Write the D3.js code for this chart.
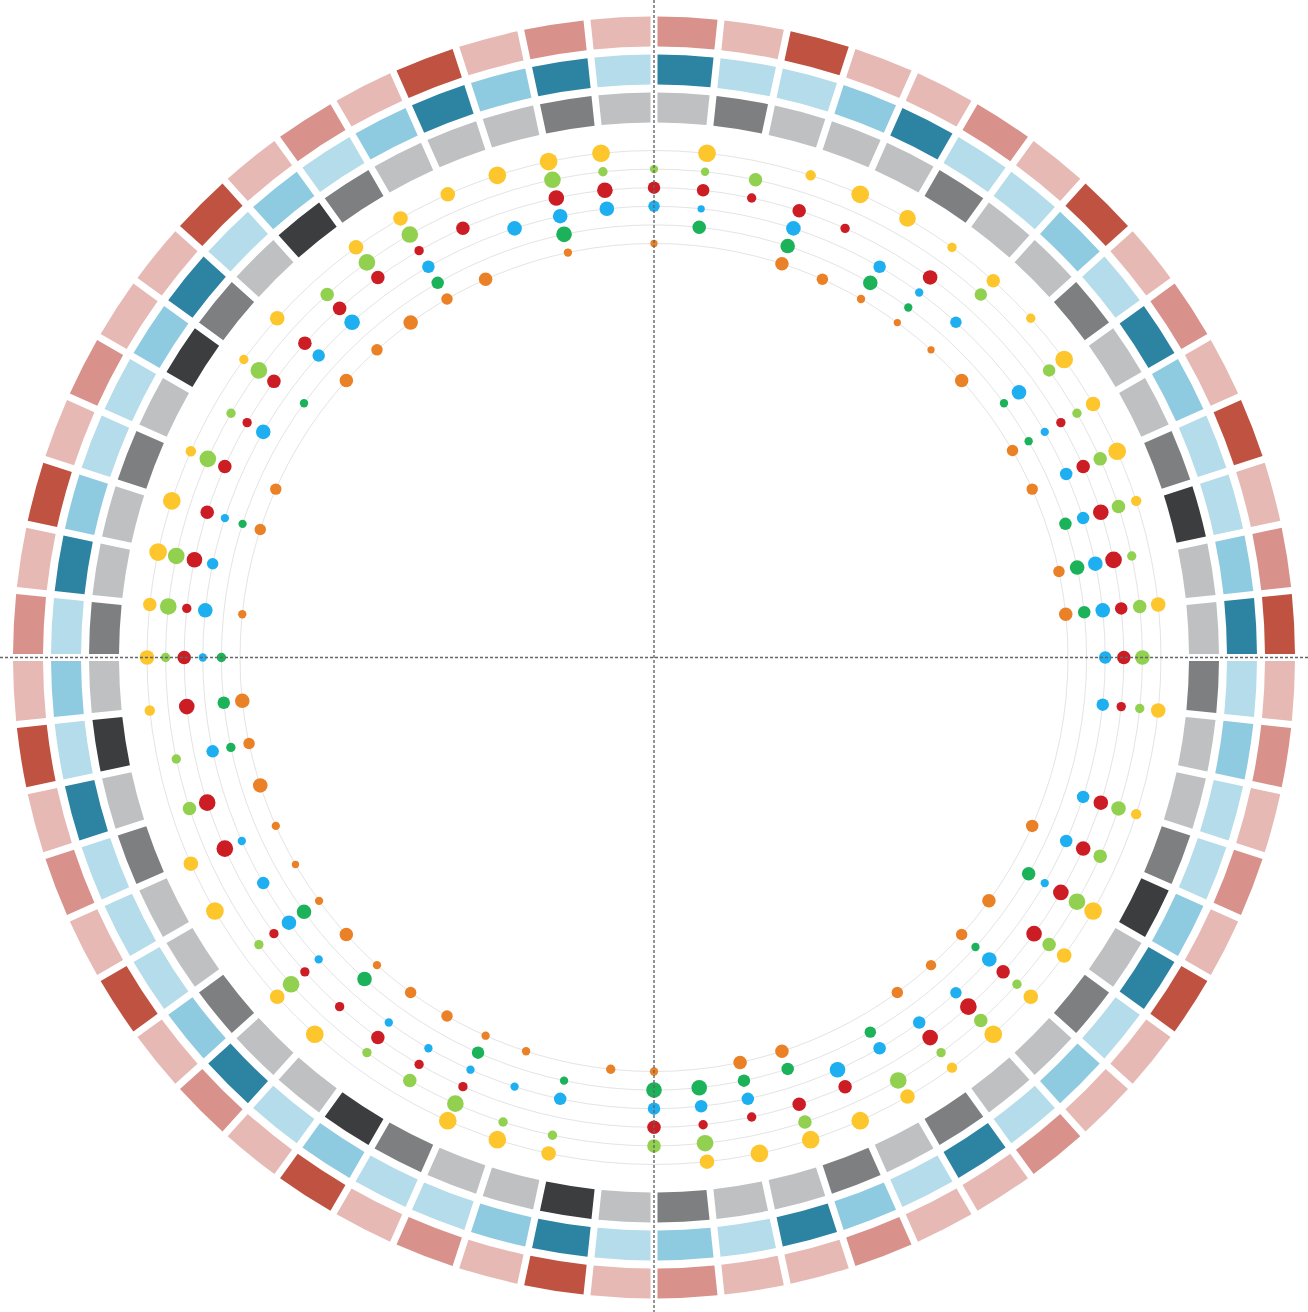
<!DOCTYPE html>
<html>
<head>
<meta charset="utf-8">
<script src="https://cdn.jsdelivr.net/npm/d3@7"></script>
<style>html,body{margin:0;padding:0;background:#fff;}svg{display:block;}</style>
</head>
<body>
<svg id="chart" width="1308" height="1312"></svg>
<script>
// ---- data ----
const categories = d3.range(1, 61).map(i => "S" + i);
const levels = [1, 2, 3];

// ring levels (1 = low, 2 = mid, 3 = high)
const outerLevels  = [2,1,3,1,1,2,1,3,1,2,1,3,1,2,3, 1,2,1,2,1,3,1,1,2,1,1,2,1,1,2, 1,3,1,2,1,3,1,2,1,3,1,2,1,3,1, 2,1,3,1,2,1,1,3,1,2,1,3,1,2,1];
const middleLevels = [3,1,1,2,3,1,1,2,1,3,2,1,1,2,3, 1,2,1,1,2,3,1,2,1,3,1,2,3,1,2, 1,3,2,1,1,2,1,3,2,1,1,1,3,1,2, 1,3,2,1,1,2,3,1,2,1,2,3,2,3,1];
const innerLevels  = [1,2,1,1,1,2,1,1,2,1,1,2,3,1,1, 2,1,1,2,3,1,2,1,1,2,1,2,1,1,2, 1,3,1,1,2,3,1,1,2,1,1,2,1,3,1, 2,1,1,2,1,3,2,1,3,2,1,1,1,2,1];

// dot series (0 = no value)
const seriesNames = ["yellow", "lightgreen", "red", "blue", "green", "orange"];
const yellowVals     = [0,8.5,0,5,8.5,8,4.5,6.5,4.5,8.5, 7,8.5,5,0,7,0,7,0,5,0, 8.5,7,7,8.5,5,7,8.5,8.5,8.5,7, 0,0,7,8.5,8.5,0,0,8.5,7,0, 8.5,7,0,0,5,7,6.5,8.5,8.5,5, 0,4.5,7,0,7,7,7,8.5,8.5,8.5];
const lightgreenVals = [4,4,6.5,0,0,0,0,6,0,6, 4.5,6.5,6.5,4.5,6.5,7,4.5,0,7,6.5, 8,6.5,4.5,6.5,4.5,8,0,6.5,0,8, 6.5,0,4.5,4.5,8,6.5,4.5,0,8,4.5, 0,0,6.5,4.5,0,4.5,8,8,0,8, 4.5,8,0,6.5,8,8,0,0,8,4.5];
const redVals        = [6,6,4.5,6.5,4.5,0,7,0,0,0, 4.5,6.5,7.5,8,6,6.5,4.5,0,7,7, 7.5,7.5,6.5,8,7.5,0,6.5,6.5,4.5,4.5, 6.5,0,0,0,4.5,4.5,6.5,4.5,4.5,4.5, 0,8,8,0,7.5,6.5,4.5,7.5,6.5,6.5, 4.5,6.5,6.5,6.5,6.5,4.5,6.5,0,7.5,7.5];
const blueVals       = [5.5,3.5,0,7,0,6,4,5.5,0,7, 4,6,6,7,7,6,6,0,6,6, 4,0,7,5.5,6,6,7.5,0,6,6, 6,0,6,4,4,4,4,0,4,7, 6,4,0,6,0,4,7,5.5,4,0, 7,0,6,7.5,0,6,0,7,7,7];
const greenVals      = [0,6.5,0,7,0,7,4,0,0,4, 4,0,6,7,6,0,0,0,0,0, 6.5,0,4,0,0,5.5,0,6,6,7.5, 7.5,0,4,0,6,0,0,7,0,7, 0,0,0,4.5,6,4.5,0,0,4,0, 0,4,0,0,0,6,0,0,7.5,0];
const orangeVals     = [3.5,0,0,6.5,5.5,4,3.5,3.5,6.5,0, 5.5,5.5,0,5.5,6.5,0,0,0,0,6, 0,6.5,5.5,5,5.5,0,0,6.5,6.5,0, 4,4.5,0,4,4,5.5,5.5,4,6.5,4, 3.5,4,7,5.5,7,0,4,0,5.5,5.5, 0,0,6.5,5.5,7,5.5,6.5,0,4,0];

// ---- layout ----
const W = 1308, H = 1312, cx = 654, cy = 657.5;
const svg = d3.select("#chart");
svg.append("rect").attr("width", W).attr("height", H).attr("fill", "#ffffff");
const g = svg.append("g").attr("transform", `translate(${cx},${cy})`);

const angle = d3.scaleBand().domain(categories).range([0, 2 * Math.PI]).padding(0);

const rings = [
  { values: outerLevels,  r0: 611, r1: 641, color: d3.scaleOrdinal(levels, ["#e6b9b4", "#d8928b", "#c05241"]) },
  { values: middleLevels, r0: 573, r1: 603, color: d3.scaleOrdinal(levels, ["#b4dcea", "#8ecbe1", "#2c84a2"]) },
  { values: innerLevels,  r0: 535, r1: 565, color: d3.scaleOrdinal(levels, ["#bfc0c2", "#7e7f81", "#3c3d3f"]) }
];

const arc = d3.arc().padRadius(600).padAngle(7 / 600);

rings.forEach(ring => {
  g.append("g").selectAll("path")
    .data(ring.values.map((v, i) => ({ v, c: categories[i] })))
    .join("path")
    .attr("d", d => arc({
      innerRadius: ring.r0, outerRadius: ring.r1,
      startAngle: angle(d.c), endAngle: angle(d.c) + angle.bandwidth()
    }))
    .attr("fill", d => ring.color(d.v));
});

// dot tracks
const track = d3.scalePoint().domain(seriesNames).range([507, 414]);
const dotColor = d3.scaleOrdinal(seriesNames, ["#fdc62c", "#92d050", "#cc1c24", "#1eaff0", "#1bb25a", "#eb8126"]);
const size = d3.scaleLinear().domain([0, 10]).range([0, 10.4]);

g.append("g").selectAll("circle")
  .data(seriesNames)
  .join("circle")
  .attr("r", d => track(d))
  .attr("fill", "none")
  .attr("stroke", "#e4e4e6")
  .attr("stroke-width", 1);

const seriesVals = [yellowVals, lightgreenVals, redVals, blueVals, greenVals, orangeVals];
const dots = [];
seriesNames.forEach((s, si) => {
  seriesVals[si].forEach((v, i) => {
    if (v > 0) dots.push({ s, c: categories[i], v });
  });
});

g.append("g").selectAll("circle")
  .data(dots)
  .join("circle")
  .attr("cx", d => track(d.s) * Math.sin(angle(d.c)))
  .attr("cy", d => -track(d.s) * Math.cos(angle(d.c)))
  .attr("r", d => size(d.v))
  .attr("fill", d => dotColor(d.s));

// dashed cross lines
svg.append("line").attr("x1", cx).attr("x2", cx).attr("y1", 0).attr("y2", H)
  .attr("stroke", "#666").attr("stroke-width", 1.4).attr("stroke-dasharray", "3,2");
svg.append("line").attr("x1", 0).attr("x2", W).attr("y1", cy).attr("y2", cy)
  .attr("stroke", "#666").attr("stroke-width", 1.4).attr("stroke-dasharray", "3,2");
</script>
</body>
</html>
